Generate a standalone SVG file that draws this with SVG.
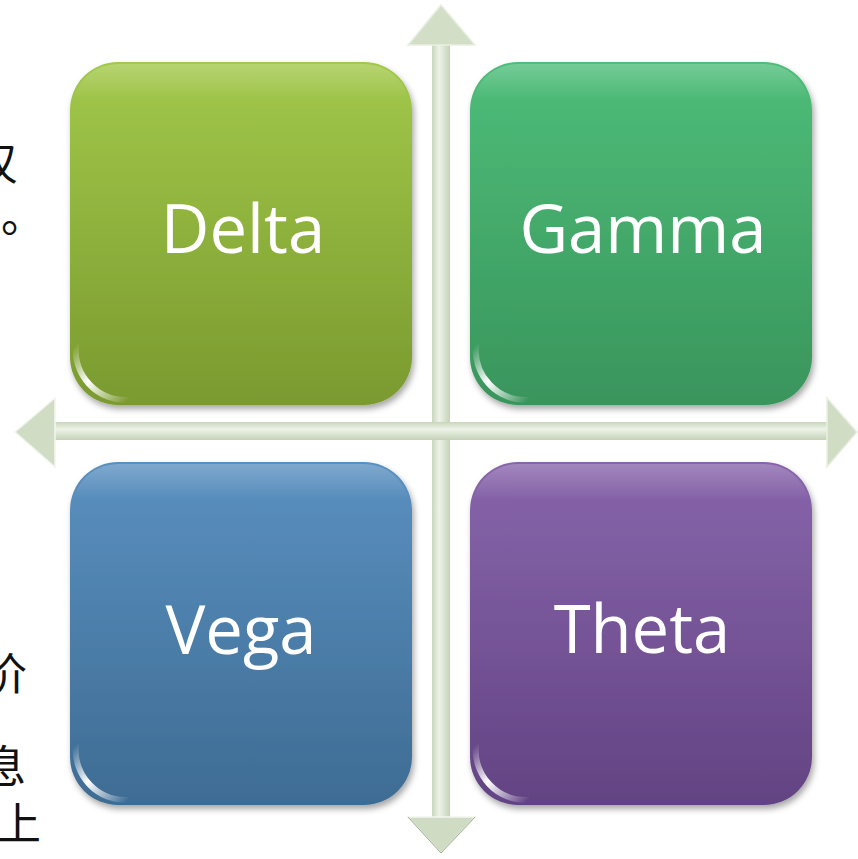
<svg xmlns="http://www.w3.org/2000/svg" width="858" height="859" viewBox="0 0 858 859">
<defs>
<style>
.lbl{font-family:"Open Sans","Noto Sans",sans-serif;font-size:67px;fill:#ffffff;text-anchor:middle}
.cjk{font-family:"Noto Sans CJK SC","Noto Sans",sans-serif;font-size:44px;fill:#111111}
.glint{fill:none;stroke:url(#glint);stroke-width:6;stroke-linecap:round}
.top{fill:url(#topHi)}
</style>
<linearGradient id="gDelta" x1="0" y1="0" x2="0" y2="1"><stop offset="0" stop-color="#a2c84a"/><stop offset="1" stop-color="#7a9a2f"/></linearGradient>
<linearGradient id="gGamma" x1="0" y1="0" x2="0" y2="1"><stop offset="0" stop-color="#4ebd79"/><stop offset="1" stop-color="#39955c"/></linearGradient>
<linearGradient id="gVega" x1="0" y1="0" x2="0" y2="1"><stop offset="0" stop-color="#5a90c0"/><stop offset="1" stop-color="#3e6c93"/></linearGradient>
<linearGradient id="gTheta" x1="0" y1="0" x2="0" y2="1"><stop offset="0" stop-color="#8865ab"/><stop offset="1" stop-color="#634383"/></linearGradient>
<linearGradient id="topHi" x1="0" y1="0" x2="0" y2="1"><stop offset="0" stop-color="#ffffff" stop-opacity="0.22"/><stop offset="1" stop-color="#ffffff" stop-opacity="0"/></linearGradient>
<linearGradient id="glint" x1="0" y1="0" x2="1" y2="1"><stop offset="0" stop-color="#ffffff" stop-opacity="0"/><stop offset="0.45" stop-color="#ffffff" stop-opacity="1"/><stop offset="1" stop-color="#ffffff" stop-opacity="0"/></linearGradient>
<linearGradient id="shaftV" x1="0" y1="0" x2="1" y2="0"><stop offset="0" stop-color="#c9d6bb"/><stop offset="0.4" stop-color="#eef3e8"/><stop offset="1" stop-color="#c4d2b6"/></linearGradient>
<linearGradient id="shaftH" x1="0" y1="0" x2="0" y2="1"><stop offset="0" stop-color="#c9d6bb"/><stop offset="0.4" stop-color="#eef3e8"/><stop offset="1" stop-color="#c4d2b6"/></linearGradient>
<filter id="sh" x="-10%" y="-10%" width="125%" height="125%"><feDropShadow dx="2" dy="4" stdDeviation="3" flood-color="#000" flood-opacity="0.35"/></filter>
</defs>
<rect width="858" height="859" fill="#ffffff"/>
<g id="sidetext">
<text class="cjk" x="18" y="180" text-anchor="end">叹</text>
<text class="cjk" x="1" y="232">。</text>
<text class="cjk" x="27" y="690" text-anchor="end">价</text>
<text class="cjk" x="26" y="783" text-anchor="end">息</text>
<text class="cjk" x="41" y="840" text-anchor="end">上</text>
</g>
<g id="axes">
<rect x="432" y="40" width="18" height="780" fill="url(#shaftV)"/>
<polygon points="441,5 475,45 408,45" fill="#d3dec7" stroke="#e9f0e2" stroke-width="1.5"/>
<polygon points="408,817 475,817 441,853" fill="#cfdbc3" stroke="#f2f6ee" stroke-width="1.5"/>
<polyline points="408,817 441,853 475,817" fill="none" stroke="#9fae90" stroke-width="1"/>
<rect x="52" y="422" width="778" height="18" fill="url(#shaftH)"/>
<polygon points="15,432 55,398 55,467" fill="#d0dcc4" stroke="#f2f6ee" stroke-width="1.5"/>
<polygon points="827,398 857,432 827,467" fill="#d0dcc4" stroke="#e9f0e2" stroke-width="1.5"/>
</g>
<g id="delta">
<rect x="70" y="62" width="342" height="343" rx="48" fill="url(#gDelta)" filter="url(#sh)"/>
<path class="top" d="M118,64 H364 A46,46 0 0 1 409,100 H73 A46,46 0 0 1 118,64 Z"/>
<path class="glint" d="M76,345 A50,50 0 0 0 128,400"/>
<text class="lbl" x="243" y="253">Delta</text>
</g>
<g id="gamma">
<rect x="470" y="62" width="342" height="343" rx="48" fill="url(#gGamma)" filter="url(#sh)"/>
<path class="top" d="M518,64 H764 A46,46 0 0 1 809,100 H473 A46,46 0 0 1 518,64 Z"/>
<path class="glint" d="M476,345 A50,50 0 0 0 528,400"/>
<text class="lbl" x="643" y="253">Gamma</text>
</g>
<g id="vega">
<rect x="70" y="462" width="342" height="343" rx="48" fill="url(#gVega)" filter="url(#sh)"/>
<path class="top" d="M118,464 H364 A46,46 0 0 1 409,500 H73 A46,46 0 0 1 118,464 Z"/>
<path class="glint" d="M76,745 A50,50 0 0 0 128,800"/>
<text class="lbl" x="241" y="654">Vega</text>
</g>
<g id="theta">
<rect x="470" y="462" width="342" height="343" rx="48" fill="url(#gTheta)" filter="url(#sh)"/>
<path class="top" d="M518,464 H764 A46,46 0 0 1 809,500 H473 A46,46 0 0 1 518,464 Z"/>
<path class="glint" d="M476,745 A50,50 0 0 0 528,800"/>
<text class="lbl" x="642" y="653">Theta</text>
</g>
</svg>
